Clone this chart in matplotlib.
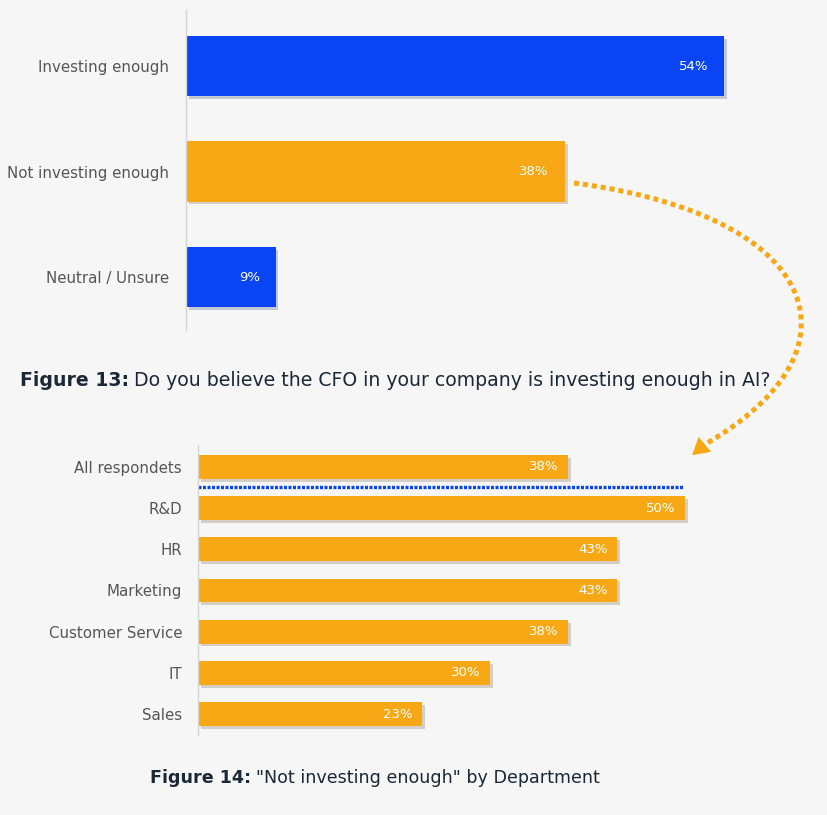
import matplotlib.pyplot as plt
import matplotlib.patheffects as pe
from matplotlib.patches import FancyArrowPatch
import numpy as np

# data
q13_labels = ['Investing enough', 'Not investing enough', 'Neutral / Unsure']
q13_values = [54, 38, 9]
q13_colors = ['#0a45f5', '#f9a815', '#0a45f5']

dept_labels = ['All respondets', 'R&D', 'HR', 'Marketing', 'Customer Service', 'IT', 'Sales']
dept_values = [38, 50, 43, 43, 38, 30, 23]

BG = '#f6f6f6'
ORANGE = '#f9a815'
BLUE = '#0a45f5'
LABEL = '#555555'
TITLE = '#1b2838'

plt.rcParams['font.family'] = ['DejaVu Sans']

W, H = 828, 815
fig = plt.figure(figsize=(W / 100, H / 100), dpi=100, facecolor=BG)


def px_axes(left, top, right, bottom):
    return fig.add_axes([left / W, 1 - bottom / H, (right - left) / W, (bottom - top) / H])


shadow = [pe.SimplePatchShadow(offset=(2, -2), alpha=0.2), pe.Normal()]


def style(ax, pad):
    ax.set_facecolor(BG)
    for s in ['top', 'right', 'bottom']:
        ax.spines[s].set_visible(False)
    ax.spines['left'].set_color('#d5d5d5')
    ax.spines['left'].set_linewidth(1)
    ax.set_xticks([])
    ax.tick_params(axis='y', length=0, pad=pad, labelsize=10.8, labelcolor=LABEL)


# Figure 13
ax1 = px_axes(186, 10, 784, 330)
style(ax1, 12)
y1 = np.arange(len(q13_labels))
bars = ax1.barh(y1, q13_values, height=0.57, color=q13_colors)
for b in bars:
    b.set_path_effects(shadow)
for yy, v in zip(y1, q13_values):
    ax1.text(v - 1.6, yy, f'{v}%', ha='right', va='center', color='white', fontsize=9.5)
ax1.set_yticks(y1, q13_labels)
ax1.set_xlim(0, 60)
ax1.set_ylim(2.502, -0.531)

# Figure 14
ax2 = px_axes(198, 445, 783, 735)
style(ax2, 11.5)
y2 = np.arange(len(dept_labels))
bars = ax2.barh(y2, dept_values, height=0.58, color=ORANGE)
for b in bars:
    b.set_path_effects(shadow)
for yy, v in zip(y2, dept_values):
    ax2.text(v - 1.0, yy, f'{v}%', ha='right', va='center', color='white', fontsize=9.5)
ax2.set_yticks(y2, dept_labels)
ax2.set_xlim(0, 60)
ax2.set_ylim(6.51, -0.534)
ax2.plot([0, 49.7], [0.49, 0.49], color=BLUE, lw=2.4, linestyle=(0, (0.9, 0.45)),
         dash_capstyle='butt')

# dotted connector arrow (pixel coords from top-left)
p0, p1, p2, p3 = map(np.array, [(574, 183), (820, 215), (872, 350), (702, 446)])
t = np.linspace(0, 1, 300)[:, None]
curve = (1 - t) ** 3 * p0 + 3 * (1 - t) ** 2 * t * p1 + 3 * (1 - t) * t ** 2 * p2 + t ** 3 * p3
fig.add_artist(plt.Line2D(curve[:, 0] / W, 1 - curve[:, 1] / H, color=ORANGE, lw=3.6,
                          linestyle=(0, (1.0, 0.8)), dash_capstyle='butt',
                          transform=fig.transFigure))
fig.add_artist(FancyArrowPatch(
    (710 / W, 1 - 440 / H), (690 / W, 1 - 457 / H), transform=fig.transFigure,
    arrowstyle='-|>,head_length=12,head_width=7', color=ORANGE, lw=0, mutation_scale=1))

# titles with bold prefix
fig.canvas.draw()
renderer = fig.canvas.get_renderer()


def title(x, y, bold, rest, size):
    t1 = fig.text(x / W, 1 - y / H, bold, fontsize=size, fontweight='bold', color=TITLE, va='center')
    bb = t1.get_window_extent(renderer)
    fig.text((bb.x1 + 5) / W, 1 - y / H, rest, fontsize=size, color=TITLE, va='center')


title(20, 380, 'Figure 13:', 'Do you believe the CFO in your company is investing enough in AI?', 13.6)
title(150, 778, 'Figure 14:', '"Not investing enough" by Department', 12.6)

fig.savefig('out.png', dpi=100, facecolor=BG)
